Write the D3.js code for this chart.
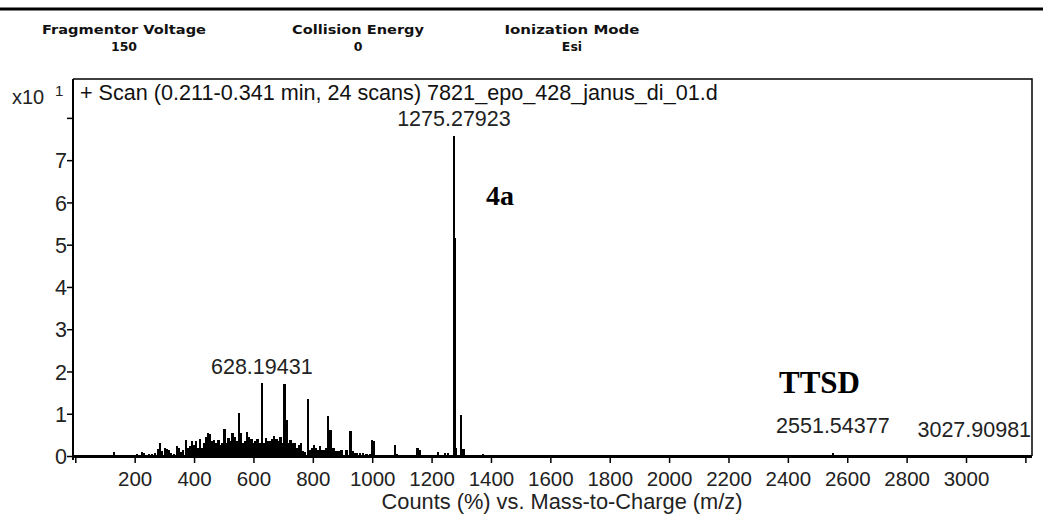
<!DOCTYPE html>
<html><head><meta charset="utf-8">
<script src="https://cdn.jsdelivr.net/npm/d3@7"></script>
<style>
html,body{margin:0;padding:0;background:#fff;}
svg{display:block;}
</style></head>
<body>
<svg id="c" width="1043" height="521"></svg>
<script>
// ---- data ----
const headerTitles = ["Fragmentor Voltage", "Collision Energy", "Ionization Mode"];
const headerValues = ["150", "0", "Esi"];
const xTicks = [0,200,400,600,800,1000,1200,1400,1600,1800,2000,2200,2400,2600,2800,3000,3200];
const yTicks = [0,1,2,3,4,5,6,7,8];
const mz = [130,207,224,232,248,258,268,279,286,292,302,309,316,322,332,342,349,356,363,373,380,386,393,400,407,413,420,427,434,440,447,454,461,468,475,482,489,495,502,509,516,523,530,537,544,552,559,566,573,579,586,593,600,607,614,621,628.19,635,642,649,656,663,670,677,684,691,697,705,711,718,725,732,739,746,753,760,767,774,783,790,797,804,811,818,825,832,839,845,852,859,869,879,886,897,914,927,934,942,949,959,969,981,993,1000,1006,1077,1084,1152,1159,1200,1222,1245,1256,1275.28,1277.5,1279.5,1283,1300,1307,1374,2551.54];
const counts = [0.09,0.05,0.09,0.07,0.04,0.05,0.07,0.16,0.30,0.12,0.19,0.17,0.15,0.07,0.05,0.24,0.20,0.10,0.14,0.39,0.20,0.24,0.35,0.25,0.36,0.20,0.41,0.20,0.30,0.45,0.54,0.52,0.35,0.39,0.30,0.39,0.25,0.30,0.63,0.30,0.43,0.35,0.54,0.45,0.35,1.01,0.55,0.30,0.35,0.57,0.45,0.40,0.30,0.35,0.40,0.30,1.72,0.30,0.43,0.35,0.35,0.40,0.47,0.40,0.35,0.45,0.30,1.70,0.84,0.30,0.39,0.30,0.30,0.20,0.25,0.30,0.12,0.10,1.34,0.15,0.20,0.25,0.20,0.15,0.24,0.15,0.15,0.20,0.94,0.62,0.19,0.12,0.12,0.15,0.15,0.60,0.12,0.07,0.07,0.06,0.07,0.05,0.05,0.39,0.35,0.25,0.05,0.18,0.15,0.03,0.10,0.06,0.06,7.57,5.15,5.15,0.20,0.97,0.16,0.05,0.08];
const peakLabels = ["628.19431", "1275.27923", "2551.54377", "3027.90981"];
const peakLabelMz = [628.19, 1275.28, 2551.54, 3027.91];
const peakLabelLevel = [1.95, 7.8, 0.55, 0.45];
const compoundLabels = ["4a", "TTSD"];
const scanText = "+ Scan (0.211-0.341 min, 24 scans) 7821_epo_428_janus_di_01.d";
const xTitle = "Counts (%) vs. Mass-to-Charge (m/z)";

// ---- layout ----
const svg = d3.select("#c");
const L = 73, R = 1032, T = 79, B = 456;
const x = d3.scaleLinear().domain([0, 3220]).range([75.3, 75.3 + 3220 * 0.2969]);
const y = d3.scaleLinear().domain([0, 8.92]).range([B, T]);
const sans = "'Liberation Sans', Arial, sans-serif";

// top rule
svg.append("line").attr("x1", 0).attr("x2", 1043).attr("y1", 9).attr("y2", 9)
  .attr("stroke", "#000").attr("stroke-width", 3);

// header
const hx = [124, 358, 572], hw = [164, 132, 135];
headerTitles.forEach((t, i) => {
  svg.append("text").attr("x", hx[i]).attr("y", 34).attr("text-anchor", "middle")
    .attr("font-family", "Tahoma, 'DejaVu Sans', sans-serif").attr("font-weight", "bold")
    .attr("font-size", 13).attr("fill", "#111")
    .attr("textLength", hw[i]).attr("lengthAdjust", "spacingAndGlyphs").text(t);
  svg.append("text").attr("x", hx[i]).attr("y", 51).attr("text-anchor", "middle")
    .attr("font-family", "Tahoma, 'DejaVu Sans', sans-serif").attr("font-weight", "bold")
    .attr("font-size", 12.5).attr("fill", "#111").text(headerValues[i]);
});

// frame
svg.append("path").attr("d", `M${L},${T}H${R}V${B}`).attr("fill", "none")
  .attr("stroke", "#000").attr("stroke-width", 1.5);

// bars
svg.append("g").attr("shape-rendering", "crispEdges").selectAll("rect").data(mz).join("rect")
  .attr("x", d => x(d) - 1.2).attr("width", 2.4)
  .attr("y", (d, i) => y(counts[i])).attr("height", (d, i) => B - y(counts[i]))
  .attr("fill", "#000");

// axes
const xa = svg.append("g").attr("transform", `translate(0,${B})`)
  .call(d3.axisBottom(x).tickValues(xTicks).tickSize(7).tickSizeOuter(0)
    .tickFormat(d => (d === 0 || d === 3200) ? "" : d));
xa.select(".domain").remove();
xa.selectAll(".tick line").attr("stroke-width", 1.5).attr("y1", 1);
xa.selectAll(".tick text").attr("font-family", sans).attr("font-size", 20.5)
  .attr("fill", "#222").attr("dy", 0).attr("y", 30);
svg.append("line").attr("x1", L - 1).attr("x2", R).attr("y1", B + 0.5).attr("y2", B + 0.5)
  .attr("stroke", "#000").attr("stroke-width", 3);

const ya = svg.append("g").attr("transform", `translate(${L},0)`)
  .call(d3.axisLeft(y).tickValues(yTicks).tickSize(6).tickSizeOuter(0)
    .tickFormat(d => d === 8 ? "" : d));
ya.select(".domain").remove();
ya.selectAll(".tick line").attr("stroke-width", 1.5);
ya.selectAll(".tick text").attr("font-family", sans).attr("font-size", 21.5)
  .attr("fill", "#222").attr("x", -6).attr("dy", "0.36em");
svg.append("line").attr("x1", L).attr("x2", L).attr("y1", T).attr("y2", B + 4)
  .attr("stroke", "#000").attr("stroke-width", 2);

// y multiplier
svg.append("text").attr("x", 12).attr("y", 104).attr("font-family", sans)
  .attr("font-size", 20).attr("fill", "#222").text("x10");
svg.append("text").attr("x", 55).attr("y", 96).attr("font-family", sans)
  .attr("font-size", 15).attr("fill", "#222").text("1");

// scan text
svg.append("text").attr("x", 80).attr("y", 100).attr("font-family", sans)
  .attr("font-size", 21.6).attr("fill", "#111").text(scanText);

// peak labels
peakLabels.forEach((t, i) => {
  svg.append("text").attr("x", x(peakLabelMz[i])).attr("y", y(peakLabelLevel[i]))
    .attr("text-anchor", "middle").attr("font-family", sans).attr("font-size", 21.5)
    .attr("fill", "#222").text(t);
});

// compound labels
svg.append("text").attr("x", 486).attr("y", 205).attr("font-family", "'Liberation Serif', 'Times New Roman', serif")
  .attr("font-weight", "bold").attr("font-size", 28).attr("fill", "#000").text(compoundLabels[0]);
svg.append("text").attr("x", 779).attr("y", 393).attr("font-family", "'Liberation Serif', 'Times New Roman', serif")
  .attr("font-weight", "bold").attr("font-size", 31).attr("fill", "#000").text(compoundLabels[1]);

// x title
svg.append("text").attr("x", 562).attr("y", 509).attr("text-anchor", "middle")
  .attr("font-family", sans).attr("font-size", 21.8).attr("fill", "#222").text(xTitle);
</script>
</body></html>
